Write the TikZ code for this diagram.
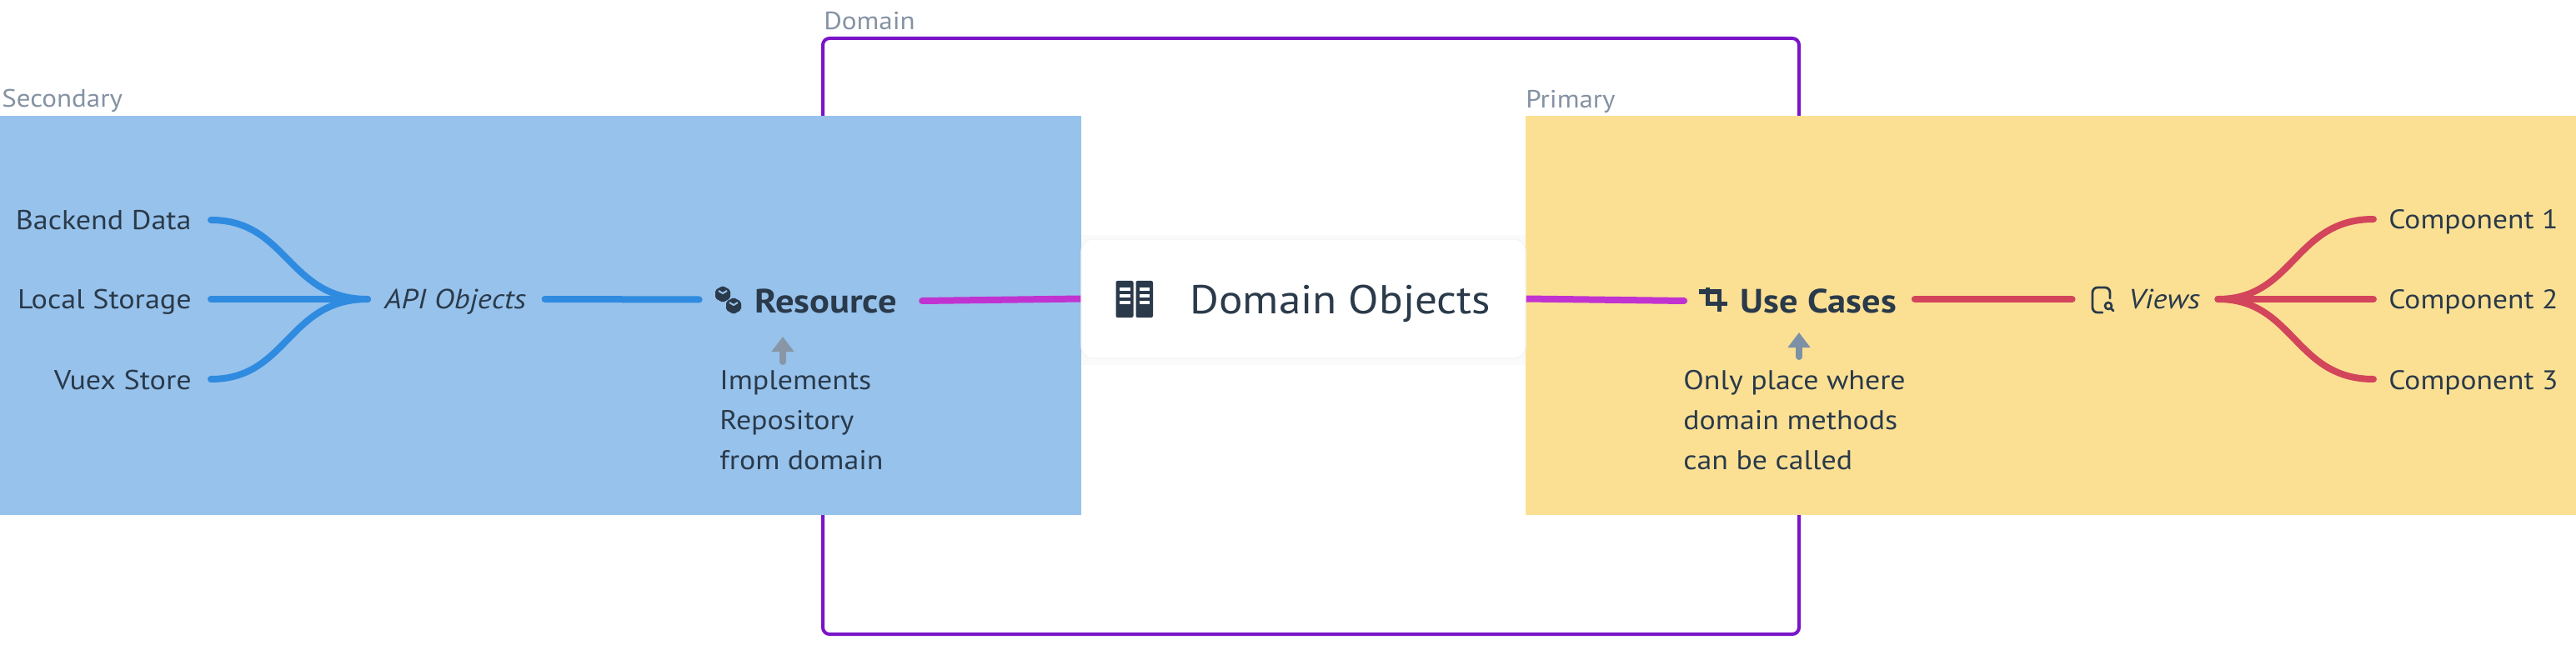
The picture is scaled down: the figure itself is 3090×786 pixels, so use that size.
\documentclass[tikz,border=0pt]{standalone}
\usepackage{fontspec}
\setmainfont{PT Sans}[FakeStretch=1.10]
\usetikzlibrary{arrows.meta,calc}
\definecolor{ink}{HTML}{2A3A4A}
\definecolor{muted}{HTML}{8492A3}
\definecolor{bluefill}{HTML}{97C2EC}
\definecolor{yellowfill}{HTML}{FBE094}
\definecolor{domainline}{HTML}{7A14C8}
\definecolor{magentaline}{HTML}{C033D0}
\definecolor{blueline}{HTML}{2F8BDF}
\definecolor{redline}{HTML}{D3455B}
\definecolor{arrowgray}{HTML}{8896A5}
\definecolor{arrowslate}{HTML}{7C90A6}
\tikzset{
  lbl/.style={inner sep=0pt,text=ink,text height=14pt,text depth=2pt,font=\fontsize{16.4}{20}\selectfont},
  comp/.style={lbl,font=\fontsize{16.15}{20}\selectfont},
  ital/.style={lbl,font=\fontsize{16.6}{20}\selectfont\itshape},
  strong/.style={inner sep=0pt,text=ink,text height=16pt,text depth=2pt,font=\fontsize{20.2}{24}\selectfont\bfseries},
  title/.style={inner sep=0pt,text=ink,text height=20pt,text depth=2.5pt,font=\fontsize{24.2}{30}\selectfont},
  region/.style={inner sep=0pt,text=muted,anchor=base west,font=\fontsize{15}{18}\selectfont},
  note/.style={inner sep=0pt,text=ink,align=left,anchor=north west,font=\fontsize{16.3}{24}\selectfont},
  wire/.style={line width=4pt,line cap=round},
  notearrow/.style={line width=4pt,line cap=round,-{Triangle[width=13pt,length=9pt]}},
  iconbox/.style={inner sep=0pt,minimum width=16pt,minimum height=16pt},
}
\begin{document}
\begin{tikzpicture}[x=0.5pt,y=-0.5pt]
\useasboundingbox (0,0) rectangle (3090,786);
\fill[white] (0,0) rectangle (3090,786);
% domain frame
\node[draw=domainline,line width=2pt,rounded corners=4pt,inner sep=0pt,outer sep=0pt,minimum width=585.5pt,minimum height=357.5pt,anchor=north west] (domain) at (987,46) {};
\node[region] (domainlabel) at (988,36) {Domain};
% panels
\node[fill=bluefill,inner sep=0pt,outer sep=0pt,minimum width=648.5pt,minimum height=239.5pt,anchor=north west] (secondary) at (0,139) {};
\node[fill=yellowfill,inner sep=0pt,outer sep=0pt,minimum width=630pt,minimum height=239.5pt,anchor=north west] (primary) at (1830,139) {};
\node[region] (secondarylabel) at (2,129) {Secondary};
\node[region] (primarylabel) at (1830,130) {Primary};
% left labels
\node[lbl,anchor=east] (backend) at (230,264) {Backend Data};
\node[lbl,anchor=east] (local) at (230,359) {Local Storage};
\node[lbl,anchor=east] (vuex) at (230,455) {Vuex Store};
\node[ital,anchor=west,minimum width=83pt] (api) at (461,359) {API Objects};
\node[iconbox] (resicon) at (873,359.5) {};
\node[strong,anchor=west,minimum width=85pt] (resource) at (905,361) {Resource};
\node[note] (resnote) at (863,444) {Implements\\Repository\\from domain};
% right labels
\node[iconbox] (ucicon) at (2055.5,361) {};
\node[strong,anchor=west,minimum width=94pt] (usecases) at (2087,361) {Use Cases};
\node[note] (ucnote) at (2019,444) {Only place where\\domain methods\\can be called};
\node[iconbox] (viewicon) at (2522,359) {};
\node[ital,anchor=west,minimum width=42pt] (views) at (2553,359) {Views};
\node[comp,anchor=west] (c1) at (2865,263) {Component 1};
\node[comp,anchor=west] (c2) at (2865,359) {Component 2};
\node[comp,anchor=west] (c3) at (2865,455) {Component 3};
% soft shadow and card
\fill[black!2] (1297,282) rectangle (1830,438);
\node[inner sep=0pt,outer sep=0pt,minimum width=266.5pt,minimum height=71.5pt,anchor=north west] (card) at (1297,287) {};
% connectors
\coordinate (hubL) at ($(api.west)+(-10pt,0)$);
\coordinate (hubR) at ($(views.east)+(10.5pt,0)$);
\draw[wire,blueline] ([xshift=11.5pt]backend.east) .. controls (345,264) and (345,359) .. (hubL);
\draw[wire,blueline] ([xshift=11.5pt]local.east) -- (hubL);
\draw[wire,blueline] ([xshift=11.5pt]vuex.east) .. controls (345,455) and (345,359) .. (hubL);
\draw[wire,blueline] ([xshift=11pt]api.east) -- ([xshift=-9pt]resicon.west);
\draw[wire,magentaline] ([xshift=15pt]resource.east) -- (card.west);
\draw[wire,magentaline] (card.east) -- ([xshift=-9.5pt]ucicon.west);
\draw[wire,redline] ([xshift=10.5pt,yshift=1pt]usecases.east) -- ([xshift=-10pt]viewicon.west);
\draw[wire,redline] (hubR) .. controls (2752,359) and (2752,263) .. ([xshift=-9pt]c1.west);
\draw[wire,redline] (hubR) -- ([xshift=-9pt]c2.west);
\draw[wire,redline] (hubR) .. controls (2752,359) and (2752,455) .. ([xshift=-9pt]c3.west);
\draw[notearrow,arrowgray] ([xshift=38pt,yshift=5pt]resnote.north west) -- ([xshift=38pt,yshift=20pt]resnote.north west);
\draw[notearrow,arrowslate] ([xshift=69.5pt,yshift=8pt]ucnote.north west) -- ([xshift=69.5pt,yshift=22.5pt]ucnote.north west);
% card on top
\fill[white,draw=black!4,line width=0.6pt,rounded corners=7pt] (card.north west) rectangle (card.south east);
\node[title,anchor=west] (domaintext) at (1427,358.5) {Domain Objects};
% book icon
\fill[ink,rounded corners=1pt] (1338.5,337) rectangle (1359.5,381);
\fill[ink,rounded corners=1pt] (1362.5,337) rectangle (1383,381);
\foreach \yy in {345,353,361}{
  \fill[white] (1343,\yy) rectangle (1355.5,\yy+4);
  \fill[white] (1367,\yy) rectangle (1379,\yy+4);
}
% cubes icon
\foreach \cx/\cy in {867/353,880/367}{
  \fill[ink,rounded corners=1pt] (\cx-9,\cy-5) -- (\cx,\cy-10) -- (\cx+9,\cy-5) -- (\cx+9,\cy+5) -- (\cx,\cy+10) -- (\cx-9,\cy+5) -- cycle;
  \draw[bluefill,line width=1pt] (\cx-5,\cy-4) -- (\cx,\cy-1) -- (\cx+5,\cy-4);
}
% crop icon
\draw[ink,line width=2.5pt] (2038,350) -- (2062,350) -- (2062,374);
\draw[ink,line width=2.5pt] (2048,345) -- (2048,364) -- (2072,364);
% phone-search icon
\draw[ink,line width=1.4pt,line cap=round,rounded corners=3pt] (2531,358) -- (2531,345) -- (2510,345) -- (2510,375) -- (2522,375);
\draw[ink,line width=1.3pt] (2529,367) circle (4);
\draw[ink,line width=1.4pt,line cap=round] (2532,370) -- (2535,373);
\end{tikzpicture}
\end{document}
